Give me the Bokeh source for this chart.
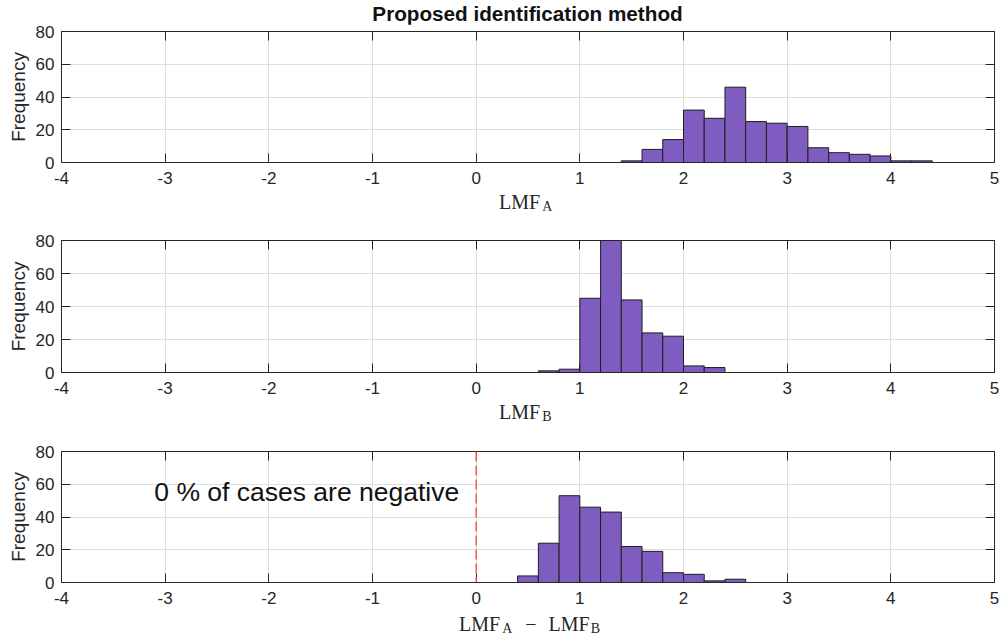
from bokeh.plotting import figure
from bokeh.models import Range1d, FixedTicker, LinearAxis, Label, Span, Div
from bokeh.layouts import column
from bokeh.embed import file_html
from bokeh.resources import INLINE

# ---------------- data ----------------
bin_width = 0.2
start_a = 0.0
counts_a = [0, 0, 0, 0, 0, 0, 0, 1, 8, 14, 32, 27, 46, 25, 24, 22, 9, 6, 5, 4, 1, 1, 0, 0, 0]
start_b = 0.0
counts_b = [0, 0, 0, 1, 2, 45, 80, 44, 24, 22, 4, 3, 0, 0, 0, 0, 0, 0, 0, 0, 0, 0, 0, 0, 0]
start_d = -1.0
counts_d = [0, 0, 0, 0, 0, 0, 0, 4, 24, 53, 46, 43, 22, 19, 6, 5, 1, 2,
            0, 0, 0, 0, 0, 0, 0, 0, 0, 0, 0, 0]
x_ticks = [-4, -3, -2, -1, 0, 1, 2, 3, 4, 5]
y_ticks = [0, 20, 40, 60, 80]
title_text = "Proposed identification method"
ylabel_text = "Frequency"
note_text = "0 % of cases are negative"

FILL = "#7e5cc0"
EDGE = "#1e1e1e"
AX = "#262626"
GRID = "#dedede"
W = 1003
FRAME_W = 933
LEFT = 61


def edges_of(start, counts):
    lefts = [round(start + i * bin_width, 6) for i in range(len(counts))]
    rights = [round(l + bin_width, 6) for l in lefts]
    return lefts, rights


def make_fig(counts, start, top_b, frame_h, bottom_b):
    p = figure(frame_width=FRAME_W, frame_height=frame_h,
               x_range=Range1d(-4, 5), y_range=Range1d(0, 80),
               output_backend="svg", toolbar_location=None,
               min_border_left=LEFT, min_border_right=W - LEFT - FRAME_W,
               min_border_top=top_b, min_border_bottom=bottom_b,
               outline_line_color=None, background_fill_color="white",
               border_fill_color="white")
    for ax in (p.xaxis[0], p.yaxis[0]):
        ax.major_tick_in = 9
        ax.major_tick_out = 0
        ax.minor_tick_line_color = None
        ax.axis_line_color = AX
        ax.major_tick_line_color = AX
        ax.major_label_text_color = AX
        ax.major_label_text_font = "Liberation Sans"
        ax.major_label_text_font_size = "17px"
    p.xaxis.ticker = FixedTicker(ticks=x_ticks)
    p.xaxis.major_label_overrides = {t: str(t) for t in x_ticks}
    p.yaxis.ticker = FixedTicker(ticks=y_ticks)
    p.xaxis.major_label_standoff = 9
    p.yaxis.major_label_standoff = 7
    p.yaxis.axis_label = ylabel_text
    p.yaxis.axis_label_text_font = "Liberation Sans"
    p.yaxis.axis_label_text_font_size = "19px"
    p.yaxis.axis_label_text_font_style = "normal"
    p.yaxis.axis_label_text_color = AX
    p.yaxis.axis_label_standoff = 4
    # box axes (top/right) with inside ticks, no labels
    for loc, tick in (("above", x_ticks), ("right", y_ticks)):
        a = LinearAxis(ticker=FixedTicker(ticks=tick), major_tick_in=9, major_tick_out=0,
                       minor_tick_line_color=None, axis_line_color=AX,
                       major_tick_line_color=AX, major_label_text_font_size="1px",
                       major_label_overrides={t: "" for t in tick},
                       major_label_standoff=0)
        p.add_layout(a, loc)
    p.xgrid.ticker = FixedTicker(ticks=x_ticks)
    p.ygrid.ticker = FixedTicker(ticks=y_ticks)
    p.grid.grid_line_color = GRID
    p.grid.grid_line_width = 1
    lefts, rights = edges_of(start, counts)
    p.quad(left=lefts, right=rights, bottom=0, top=counts,
           fill_color=FILL, line_color=EDGE, line_width=1)
    return p


def xlabel_div(inner, left, pad_top, height):
    html = ('<div style="padding-top:%dpx; margin-left:%dpx; white-space:nowrap; '
            'font-family:\'Liberation Serif\', serif; font-size:20px; line-height:19px; '
            'color:%s">%s</div>') % (pad_top, left, AX, inner)
    return Div(text=html, width=W, height=height, margin=0)


def sub(t, ml):
    return ('<span style="font-size:14px; position:relative; top:2px; '
            'margin-left:%dpx">%s</span>') % (ml, t)


title_div = Div(
    text=('<div style="padding-top:5px; margin-left:%dpx; width:%dpx; text-align:center; '
          'font-family:\'Liberation Sans\', sans-serif; font-weight:bold; font-size:20.7px; '
          'line-height:18px; color:#111111; white-space:nowrap">%s</div>')
         % (LEFT, FRAME_W, title_text),
    width=W, height=24, margin=0)

p1 = make_fig(counts_a, start_a, 7, 131, 30)
d1 = xlabel_div("LMF" + sub("A", 2), 499, 1, 26)

p2 = make_fig(counts_b, start_b, 22, 132, 30)
d2 = xlabel_div("LMF" + sub("B", 2), 499, 1, 27)

p3 = make_fig(counts_d, start_d, 22, 131, 30)
p3.add_layout(Span(location=0, dimension="height", line_color="#f25a5a",
                   line_dash="10 4", line_width=1.5))
p3.add_layout(Label(x=-3.105, y=55, text=note_text, text_font="Liberation Sans",
                    text_font_size="26.5px", text_baseline="middle", text_color="#111111"))
d3 = xlabel_div("LMF" + sub("A", 2)
                + '<span style="margin:0 12px 0 13px">\u2212</span>'
                + "LMF" + sub("B", 1), 459, 3, 26)

layout = column(title_div, p1, d1, p2, d2, p3, d3, spacing=0)
open("out.html", "w").write(file_html(layout, INLINE))
